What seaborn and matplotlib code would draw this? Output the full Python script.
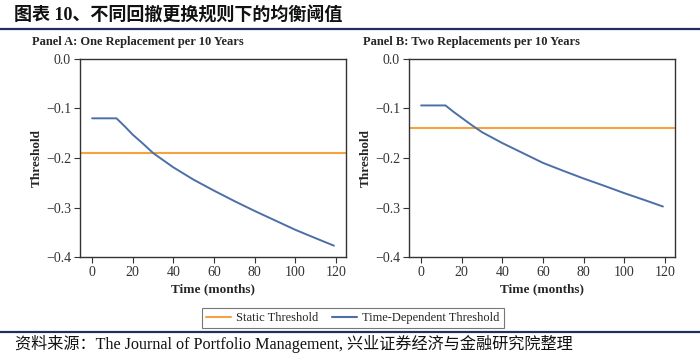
import pandas as pd
import matplotlib.pyplot as plt
import seaborn as sns
from matplotlib.lines import Line2D

# Data
months = [0, 12, 16, 20, 25, 30, 40, 50, 60, 70, 80, 90, 100, 110, 119]
panel_a_dynamic = [-0.120, -0.120, -0.136, -0.153, -0.171, -0.190, -0.219, -0.244,
                   -0.266, -0.287, -0.307, -0.326, -0.345, -0.362, -0.377]
panel_b_dynamic = [-0.094, -0.094, -0.107, -0.119, -0.134, -0.148, -0.170, -0.190,
                   -0.210, -0.226, -0.2415, -0.256, -0.271, -0.285, -0.298]
panel_a_static = -0.19
panel_b_static = -0.14
panel_titles = ['Panel A: One Replacement per 10 Years', 'Panel B: Two Replacements per 10 Years']
y_ticks = [0.0, -0.1, -0.2, -0.3, -0.4]
x_ticks = [0, 20, 40, 60, 80, 100, 120]

ORANGE = '#f5a340'
BLUE = '#4c6fa8'
NAVY = '#1f2f5f'

sns.set_style('ticks')
plt.rcParams['font.family'] = ['Liberation Serif', 'Noto Sans CJK SC']
plt.rcParams['axes.edgecolor'] = '#333333'
plt.rcParams['xtick.color'] = '#333333'
plt.rcParams['ytick.color'] = '#333333'

fig = plt.figure(figsize=(7, 3.59), dpi=100)

# Header and footer
fig.text(0.02, 0.958, '图表 10、不同回撤更换规则下的均衡阈值', fontsize=13,
         fontweight='bold', va='center', ha='left', color='#111111')
fig.add_artist(Line2D([0, 1], [0.919, 0.919], color=NAVY, linewidth=1.6))
fig.add_artist(Line2D([0, 1], [0.076, 0.076], color=NAVY, linewidth=1.6))
fig.text(0.021, 0.043, '资料来源：The Journal of Portfolio Management, 兴业证券经济与金融研究院整理',
         fontsize=11.6, va='center', ha='left', color='#111111')

panels = [
    (0.1143, 0.0457, panel_a_dynamic, panel_a_static, panel_titles[0]),
    (0.5843, 0.519, panel_b_dynamic, panel_b_static, panel_titles[1]),
]

for left, title_x, dyn, static, title in panels:
    ax = fig.add_axes([left, 0.284, 0.38, 0.552])
    df = pd.DataFrame({'month': months, 'threshold': dyn})
    ax.axhline(static, color=ORANGE, linewidth=1.5)
    sns.lineplot(data=df, x='month', y='threshold', ax=ax, color=BLUE, linewidth=1.4)
    ax.set_ylim(-0.4, 0.0)
    ax.set_xlim(-5.95, 124.95)
    ax.set_yticks(y_ticks)
    ax.set_yticklabels([f'{v:.1f}'.replace('-', '\u2212') for v in y_ticks])
    ax.set_xticks(x_ticks)
    ax.tick_params(labelsize=10, length=4, width=0.8, pad=2.5)
    for s in ax.spines.values():
        s.set_visible(True)
        s.set_linewidth(1.0)
    ax.set_xlabel('Time (months)', fontsize=9.5, fontweight='bold', labelpad=3)
    ax.set_ylabel('Threshold', fontsize=9.5, fontweight='bold', labelpad=2)
    fig.text(title_x, 0.883, title, fontsize=9, fontweight='bold', va='center', ha='left')

handles = [Line2D([], [], color=ORANGE, linewidth=1.5),
           Line2D([], [], color=BLUE, linewidth=1.5)]
leg = fig.legend(handles, ['Static Threshold', 'Time-Dependent Threshold'],
                 loc='center', bbox_to_anchor=(0.504, 0.114), ncol=2, fontsize=9,
                 frameon=True, fancybox=False, edgecolor='#555555',
                 handlelength=2.0, columnspacing=1.1, handletextpad=0.4, borderpad=0.35)
leg.get_frame().set_linewidth(0.8)

plt.savefig('out.png', dpi=100)
